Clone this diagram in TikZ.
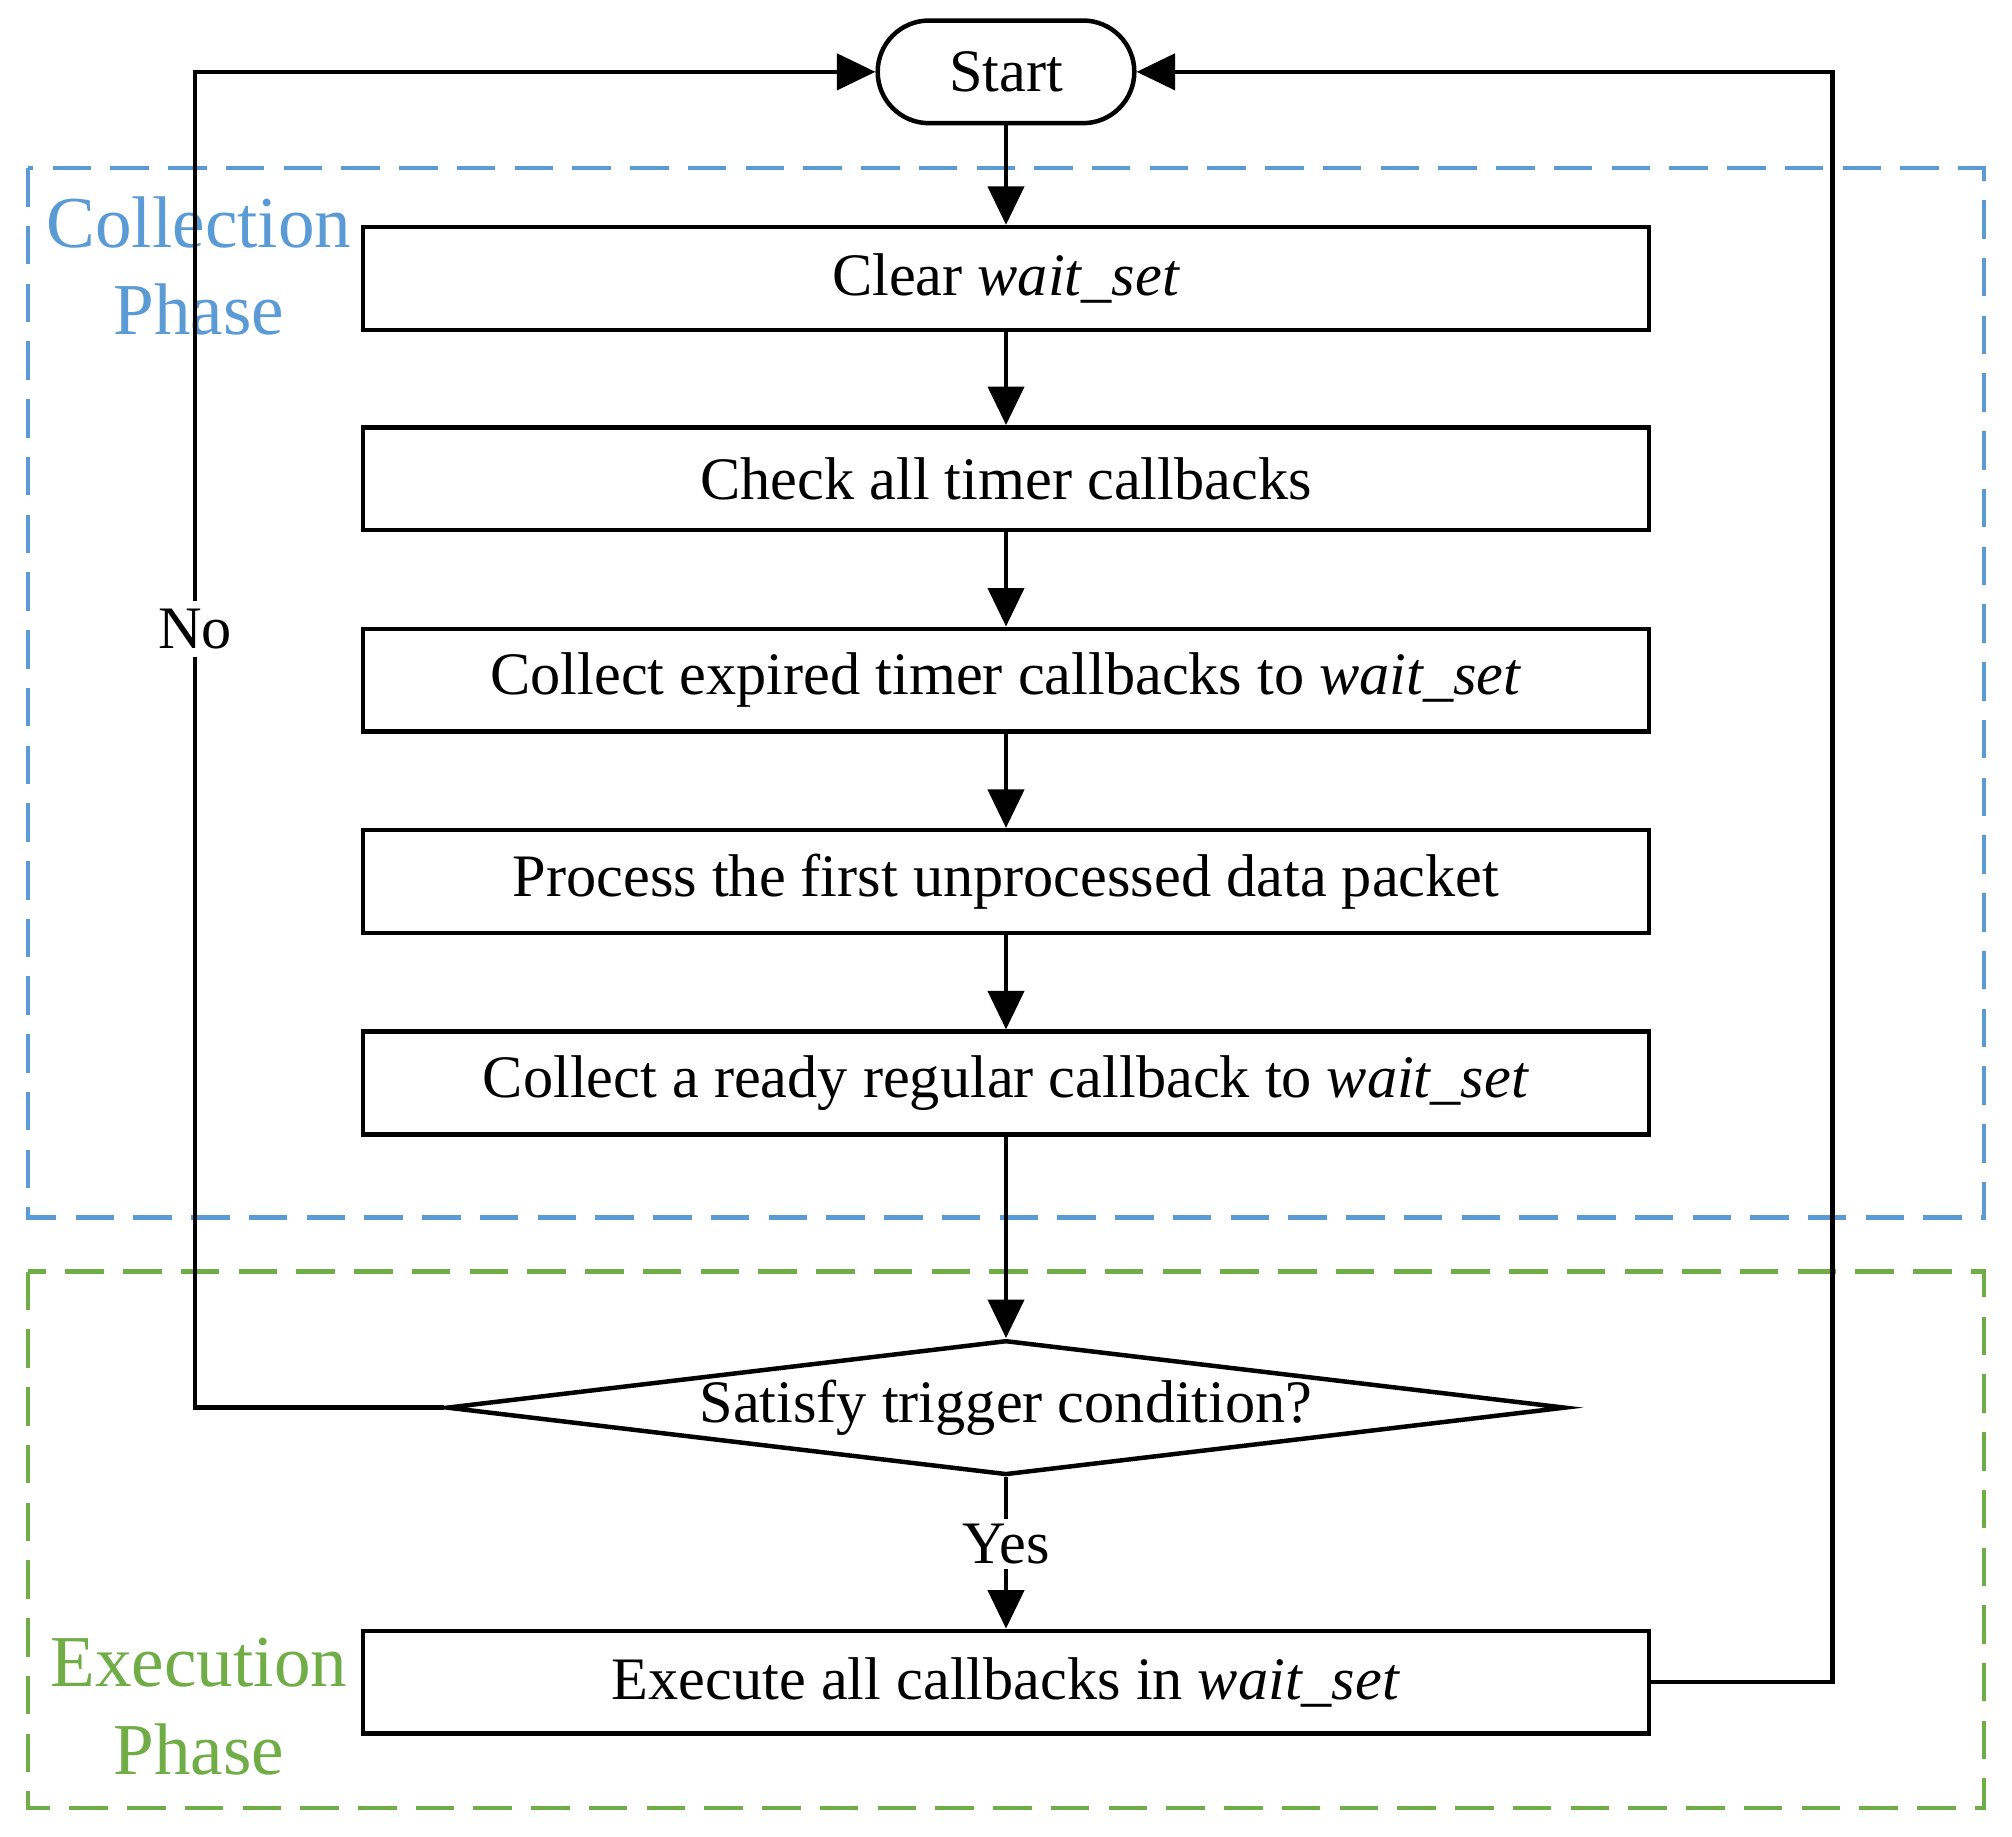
\documentclass[tikz,border=0pt]{standalone}
\usepackage{fontspec}
\setmainfont{Liberation Serif}
\usetikzlibrary{shapes.geometric,arrows.meta}
\definecolor{cblue}{RGB}{91,155,213}
\definecolor{cgreen}{RGB}{112,173,71}
\begin{document}
\begin{tikzpicture}[x=1pt,y=-1pt,
  txt/.style={font=\fontsize{47}{52}\selectfont},
  box/.style={draw,line width=3.5pt,minimum width=1002pt,minimum height=80pt,inner sep=0pt,txt},
  arr/.style={line width=3.5pt,-{Triangle[length=30pt,width=28pt]}},
  phase/.style={line width=3.5pt,dash pattern=on 30pt off 15pt}]
\useasboundingbox (0,0) rectangle (1568,1431);
\draw[phase,cblue] (22,131) rectangle (1546,949);
\draw[phase,cgreen] (22,991) rectangle (1546,1409);
\node[text=cblue,align=center,font=\fontsize{57}{68}\selectfont] (cl) at (155,207) {Collection\\Phase};
\node[text=cgreen,align=center,font=\fontsize{57}{68}\selectfont] (el) at (155,1330) {Execution\\Phase};
\node[draw,line width=3.5pt,rounded corners=40pt,minimum width=200pt,minimum height=80pt,txt] (s) at (784,56) {Start};
\node[box] (b1) at (784,217) {Clear \textit{wait\_set}};
\node[box] (b2) at (784,373) {Check all timer callbacks};
\node[box] (b3) at (784,530) {Collect expired timer callbacks to \textit{wait\_set}};
\node[box] (b4) at (784,687) {Process the first unprocessed data packet};
\node[box] (b5) at (784,844) {Collect a ready regular callback to \textit{wait\_set}};
\node[draw,line width=3.5pt,diamond,aspect=8.3,minimum width=872pt,minimum height=105pt,inner sep=0pt,txt] (d) at (784,1097) {Satisfy trigger condition?};
\node[box] (b6) at (784,1311) {Execute all callbacks in \textit{wait\_set}};
\draw[arr] (s) -- (b1);
\draw[arr] (b1) -- (b2);
\draw[arr] (b2) -- (b3);
\draw[arr] (b3) -- (b4);
\draw[arr] (b4) -- (b5);
\draw[arr] (b5) -- (d);
\draw[arr] (d) -- node[pos=0.44,fill=white,inner sep=4pt,txt]{Yes} (b6);
\coordinate (n1) at (152,1097);
\coordinate (n2) at (152,56);
\draw[arr] (d.west) -- (n1) -- node[pos=0.583,fill=white,inner sep=6pt,txt]{No} (n2) -- (s.west);
\coordinate (r1) at (1428,1311);
\coordinate (r2) at (1428,56);
\draw[arr] (b6.east) -- (r1) -- (r2) -- (s.east);
\end{tikzpicture}
\end{document}
